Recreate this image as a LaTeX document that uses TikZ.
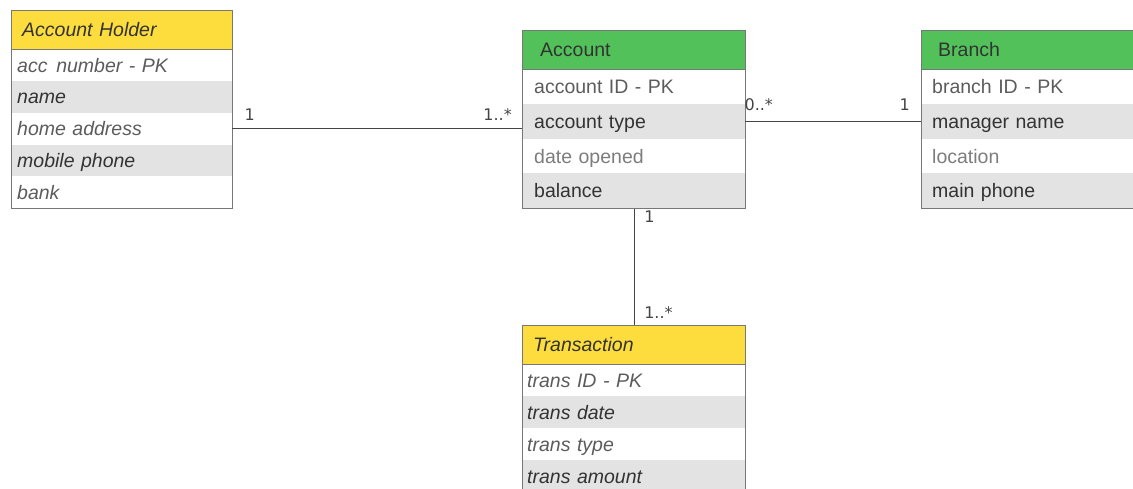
\documentclass[tikz,border=0pt]{standalone}
\usepackage{fontspec}
\setmainfont{Liberation Sans}
\newfontfamily\multfont{DejaVu Sans}
\definecolor{hdryellow}{HTML}{FDDD3E}
\definecolor{hdrgreen}{HTML}{52C15A}
\definecolor{rowgray}{HTML}{E3E3E3}
\definecolor{edgegray}{HTML}{777777}
\definecolor{txtdark}{HTML}{333333}
\definecolor{txtmid}{HTML}{5C5C5C}
\definecolor{linegray}{HTML}{444444}
\begin{document}
\begin{tikzpicture}[x=1pt,y=-1pt,
  every node/.style={font=\fontsize{19.5}{22}\selectfont},
  cell/.style={anchor=north west, inner ysep=0pt, minimum height=#1, align=left,
    text height=16pt, text depth=2pt},
  hdrcell/.style={cell=39pt, text=txtdark},
  oddrow/.style={fill=white, text=txtmid},
  evenrow/.style={fill=rowgray, text=txtdark},
  frame/.style={draw=edgegray, line width=1.2pt, anchor=north west, inner sep=0pt},
  hdrline/.style={draw=edgegray, line width=1pt},
  conn/.style={draw=linegray, line width=1pt},
  mult/.style={font=\multfont\fontsize{16}{18}\selectfont, text=linegray, inner sep=0pt},
  % per-entity cell widths and paddings
  ahcell/.style={cell=31.8pt, inner xsep=6pt, text width=209pt, font=\fontsize{19.5}{22}\selectfont\itshape},
  acccell/.style={cell=34.75pt, inner xsep=12pt, text width=199pt},
  brcell/.style={cell=34.75pt, inner xsep=11pt, text width=201pt},
  trcell/.style={cell=32pt, inner xsep=5pt, text width=213pt, font=\fontsize{19.5}{22}\selectfont\itshape}]
\useasboundingbox (0,0) rectangle (1133,489);
\clip (0,0) rectangle (1133,489);

% Account Holder
\node[hdrcell, fill=hdryellow, inner xsep=11pt, text width=199pt, font=\fontsize{19.5}{22}\selectfont\itshape] (ah0) at (11,10) {Account Holder};
\node[ahcell, oddrow]  (ah1) at (11,49)    {acc\hspace{0.45em}number - PK};
\node[ahcell, evenrow] (ah2) at (11,80.8)  {name};
\node[ahcell, oddrow]  (ah3) at (11,112.6) {home address};
\node[ahcell, evenrow] (ah4) at (11,144.4) {mobile phone};
\node[ahcell, oddrow]  (ah5) at (11,176.2) {bank};
\draw[hdrline] (ah0.south west) -- (ah0.south east);
\node[frame, minimum width=221pt, minimum height=198pt] (ah) at (11,10) {};

% Account
\node[hdrcell, fill=hdrgreen, inner xsep=18pt, text width=187pt] (acc0) at (522,30) {Account};
\node[acccell, oddrow]  (acc1) at (522,69)     {account ID - PK};
\node[acccell, evenrow] (acc2) at (522,103.75) {account type};
\node[acccell, oddrow, text=txtmid!80]  (acc3) at (522,138.5)  {date opened};
\node[acccell, evenrow] (acc4) at (522,173.25) {balance};
\draw[hdrline] (acc0.south west) -- (acc0.south east);
\node[frame, minimum width=223pt, minimum height=178pt] (acc) at (522,30) {};

% Branch
\node[hdrcell, fill=hdrgreen, inner xsep=17pt, text width=189pt] (br0) at (921,30) {Branch};
\node[brcell, oddrow]  (br1) at (921,69)     {branch ID - PK};
\node[brcell, evenrow] (br2) at (921,103.75) {manager name};
\node[brcell, oddrow, text=txtmid!80]  (br3) at (921,138.5)  {location};
\node[brcell, evenrow] (br4) at (921,173.25) {main phone};
\draw[hdrline] (br0.south west) -- (br0.south east);
\node[frame, minimum width=223pt, minimum height=178pt] (br) at (921,30) {};

% Transaction
\node[hdrcell, fill=hdryellow, inner xsep=11pt, text width=201pt, font=\fontsize{19.5}{22}\selectfont\itshape] (tr0) at (522,325) {Transaction};
\node[trcell, oddrow]  (tr1) at (522,364) {trans ID - PK};
\node[trcell, evenrow] (tr2) at (522,396) {trans date};
\node[trcell, oddrow]  (tr3) at (522,428) {trans type};
\node[trcell, evenrow] (tr4) at (522,460) {trans amount};
\draw[hdrline] (tr0.south west) -- (tr0.south east);
\node[frame, minimum width=223pt, minimum height=170pt] (tr) at (522,325) {};

% Associations
\draw[conn] (ah3.east) -- (ah3.east -| acc.west);
\draw[conn] (acc2.east) -- (br2.west);
\draw[conn] (acc.south) -- (tr.north);

% Multiplicities
\node[mult, anchor=base west] (m1) at ([xshift=12pt,yshift=8pt]ah3.east) {1};
\node[mult, anchor=base east] (m2) at ([xshift=-10pt,yshift=8pt]ah3.east -| acc.west) {1..*};
\node[mult, anchor=base west] (m3) at ([xshift=-1pt,yshift=11pt]acc2.east) {0..*};
\node[mult, anchor=base east] (m4) at ([xshift=-11pt,yshift=11pt]br2.west) {1};
\node[mult, anchor=base west] (m5) at ([xshift=10pt,yshift=-13pt]acc.south) {1};
\node[mult, anchor=base west] (m6) at ([xshift=10pt,yshift=7pt]tr.north) {1..*};
\end{tikzpicture}
\end{document}
